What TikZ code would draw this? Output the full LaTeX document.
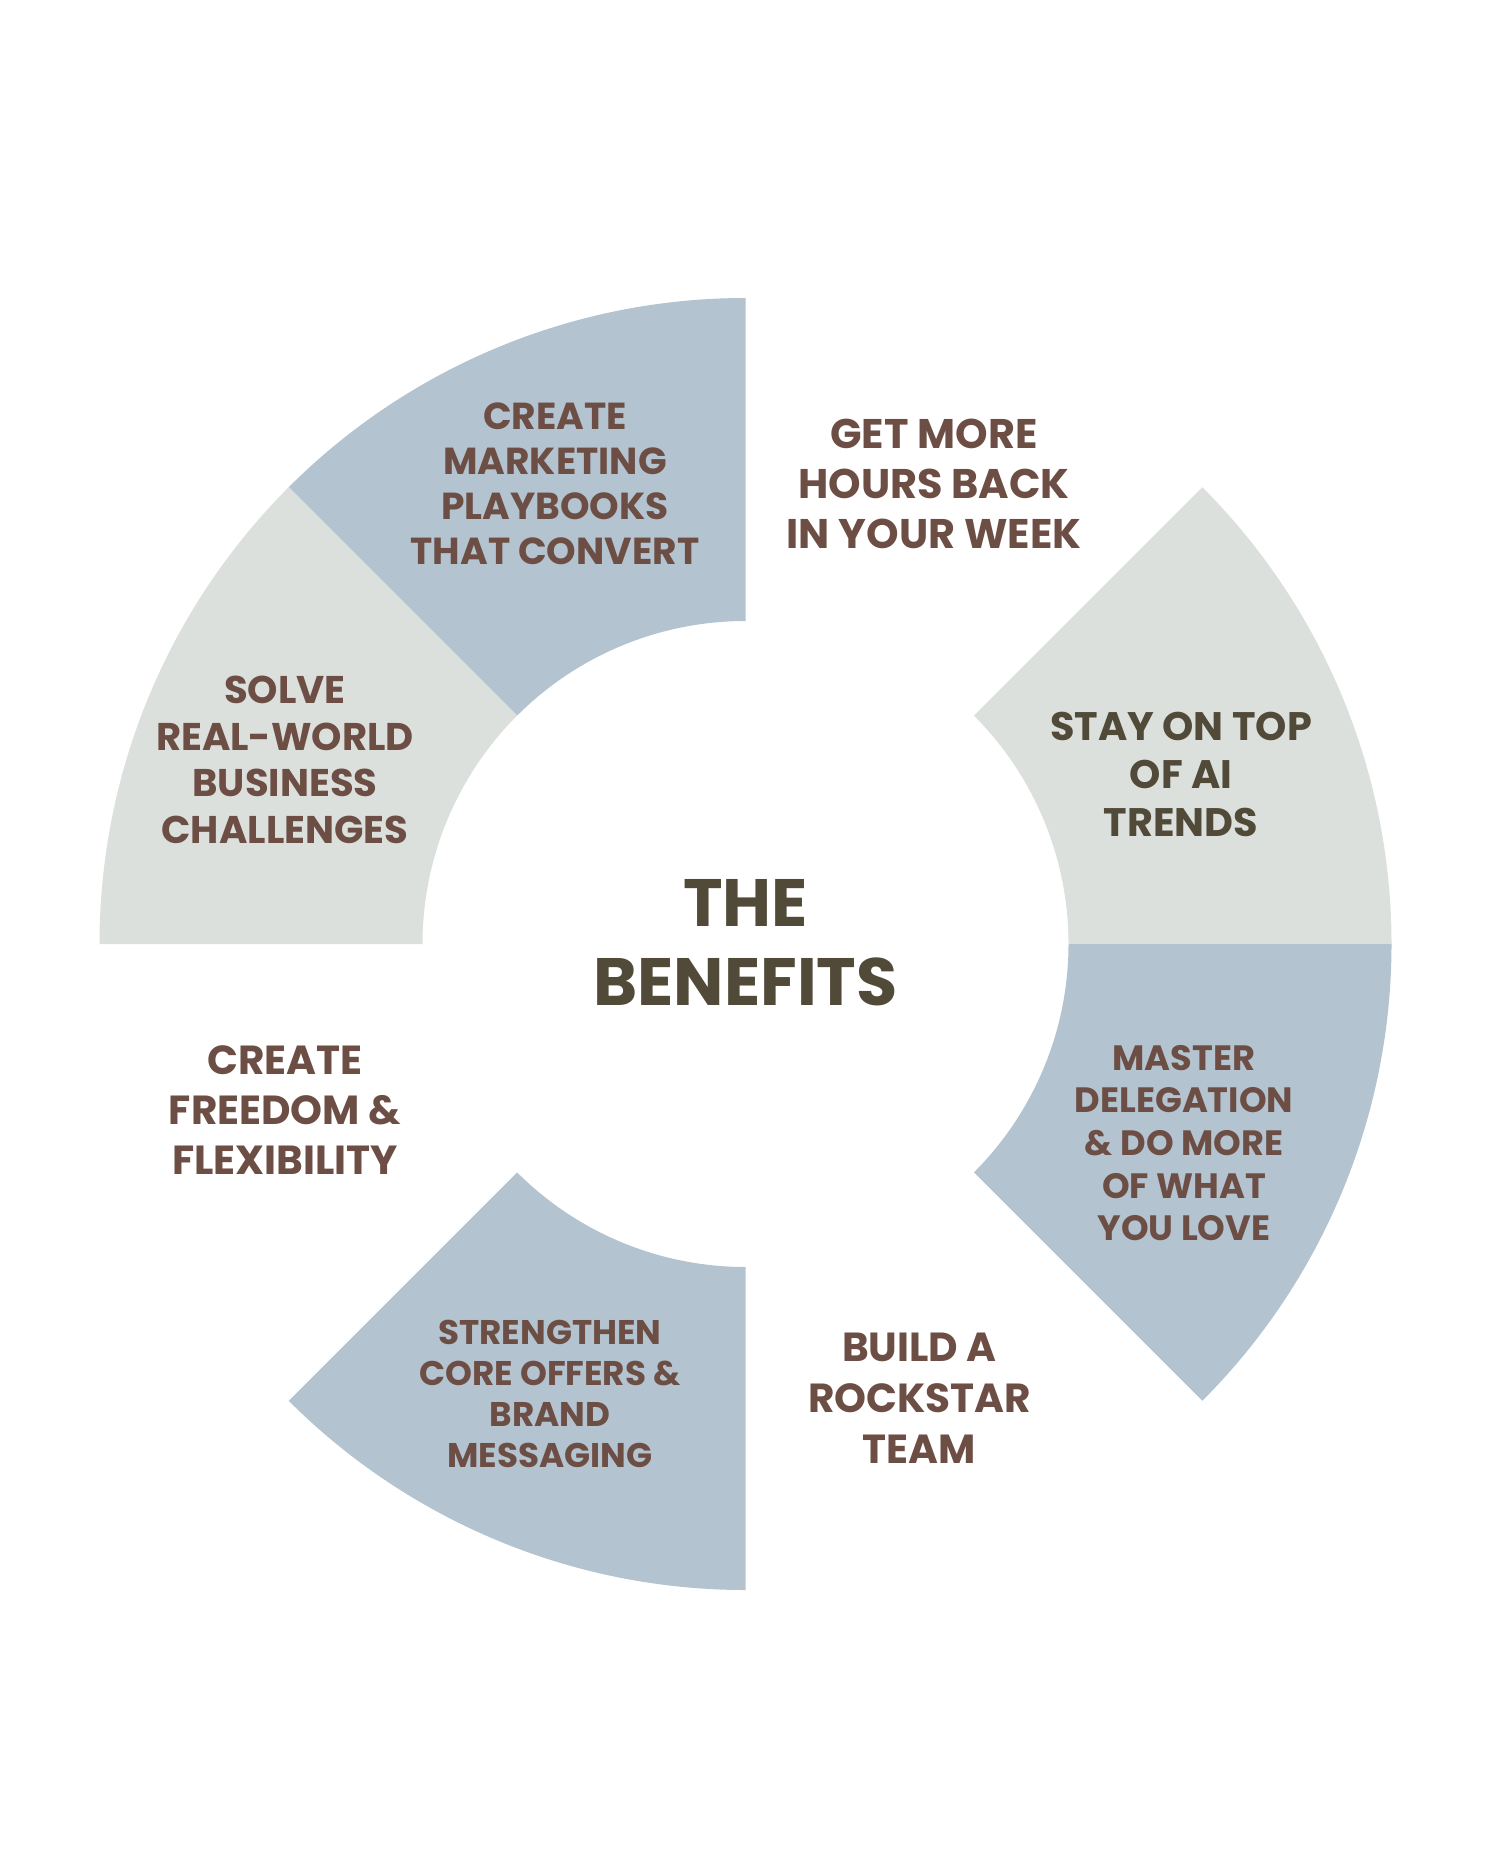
\documentclass[tikz,border=0pt]{standalone}
\usepackage{fontspec}
\setmainfont{Poppins}
\definecolor{segblue}{HTML}{B3C3CF}
\definecolor{seggrey}{HTML}{DCE0DD}
\definecolor{txtbrown}{HTML}{6D4E45}
\definecolor{txtdark}{HTML}{514A39}
\tikzset{
  lbl/.style={align=center, inner sep=0pt, text=txtbrown},
}
\newcommand{\seg}[3]{%
  \fill[#3] ([shift={(#1:323pt)}]c) arc[start angle=#1, end angle=#2, radius=323pt]
    -- ([shift={(#2:161.5pt)}]c) arc[start angle=#2, end angle=#1, radius=161.5pt] -- cycle;}
\begin{document}
\begin{tikzpicture}[x=0.5pt,y=0.5pt]
\fill[white] (0,0) rectangle (1485,-1856);
\useasboundingbox (0,0) rectangle (1485,-1856);
\coordinate (c) at (745.5,-944);
\seg{90}{135}{segblue}
\seg{135}{180}{seggrey}
\seg{0}{45}{seggrey}
\seg{-45}{0}{segblue}
\seg{225}{270}{segblue}
\node[lbl, font=\bfseries\fontsize{18.8}{22.5}\selectfont] (t1) at (555,-484) {CREATE\\MARKETING\\PLAYBOOKS\\THAT CONVERT};
\node[lbl, font=\bfseries\fontsize{20.7}{24.8}\selectfont] (t2) at (934,-484) {GET MORE\\HOURS BACK\\IN YOUR WEEK};
\node[lbl, text=txtdark, font=\bfseries\fontsize{19.9}{24}\selectfont] (t3) at (1181,-774) {STAY ON TOP\\OF AI\\TRENDS};
\node[lbl, text=txtdark, font=\bfseries\fontsize{33.5}{39.5}\selectfont] (title) at (745.5,-943) {THE\\BENEFITS};
\node[lbl, font=\bfseries\fontsize{17.6}{21.3}\selectfont] (t4) at (1184,-1143) {MASTER\\DELEGATION\\\& DO MORE\\OF WHAT\\YOU LOVE};
\node[lbl, font=\bfseries\fontsize{20.3}{25.5}\selectfont] (t5) at (919.5,-1398) {BUILD A\\ROCKSTAR\\TEAM};
\node[lbl, font=\bfseries\fontsize{17.1}{20.5}\selectfont] (t6) at (550,-1394) {STRENGTHEN\\CORE OFFERS \&\\BRAND\\MESSAGING};
\node[lbl, font=\bfseries\fontsize{20.3}{24.8}\selectfont] (t7) at (285,-1110) {CREATE\\FREEDOM \&\\FLEXIBILITY};
\node[lbl, font=\bfseries\fontsize{19.3}{23.3}\selectfont] (t8) at (285,-760) {SOLVE\\REAL-WORLD\\BUSINESS\\CHALLENGES};
\end{tikzpicture}
\end{document}
